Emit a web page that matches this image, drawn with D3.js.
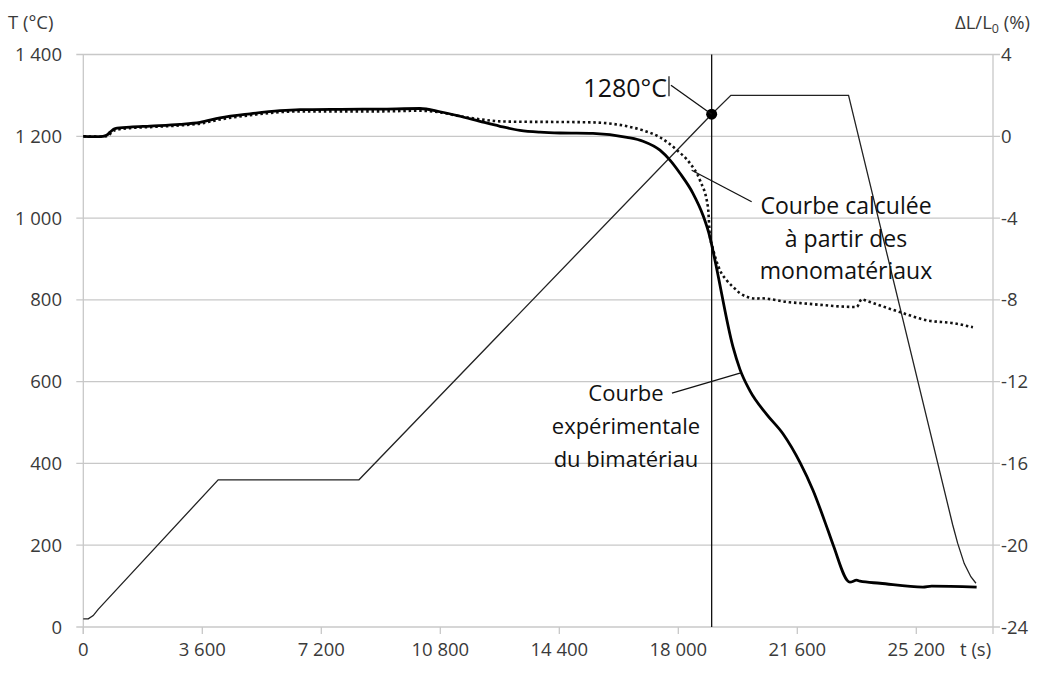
<!DOCTYPE html>
<html><head><meta charset="utf-8">
<script src="https://cdn.jsdelivr.net/npm/d3@7"></script>
<style>
body{margin:0;background:#fff}
text{font-family:"Open Sans",sans-serif;fill:#3a3a3a}
</style>
</head><body>
<svg id="chart" width="1046" height="675"></svg>
<script>
// ---- tick values ----
const timeTicks = [0, 3600, 7200, 10800, 14400, 18000, 21600, 25200];
const tempTicks = [0, 200, 400, 600, 800, 1000, 1200, 1400];
const strainTicks = [-24, -20, -16, -12, -8, -4, 0, 4];

// ---- temperature programme (s, °C) ----
const tempTime   = [0, 150, 300, 450, 4080, 8340, 19009, 19590, 23150, 26300, 26450, 26650, 26850, 27004];
const tempValues = [20, 20, 28, 43, 360, 360, 1254, 1300, 1300, 250, 205, 155, 123, 107];

// ---- experimental curve, bimaterial (s, %) ----
const expTime = [0, 500, 700, 808, 959, 1413, 2018, 2925, 3530, 4135, 5042, 5950, 6555, 7765, 8975, 10185,
  10790, 11395, 12000, 12605, 13210, 13815, 14420, 15418, 16447, 16931, 17445, 17748, 18050, 18443, 18746,
  18958, 19109, 19654, 19865, 20168, 20673, 21166, 21680, 22074, 22527, 22688, 23193, 23395, 23495, 24100,
  25401, 25664, 27025];
const expValues = [0, -0.02, 0.05, 0.2, 0.38, 0.45, 0.5, 0.58, 0.68, 0.9, 1.1, 1.25, 1.3, 1.32, 1.33, 1.36,
  1.2, 0.98, 0.73, 0.49, 0.29, 0.2, 0.16, 0.14, -0.05, -0.24, -0.68, -1.17, -1.81, -2.79, -3.86,
  -4.94, -6.06, -10.3, -11.4, -12.45, -13.6, -14.55, -15.95, -17.31, -19.27, -20.0, -21.81, -21.71, -21.76, -21.86,
  -22.05, -22.0, -22.05];

// ---- calculated curve from monomaterials (s, %) ----
const calcTime = [0, 500, 700, 959, 1413, 2018, 2925, 3530, 4135, 5042, 5950, 6555, 8975, 10185, 10790, 11395,
  12000, 12605, 13210, 14420, 15418, 16447, 16931, 17445, 17959, 18353, 18655, 18897, 18958, 19019, 19260,
  19463, 19765, 19865, 20370, 20470, 21378, 21771, 23395, 23547, 23698, 24705, 25513, 26308, 26913];
const calcValues = [0, -0.02, 0.0, 0.3, 0.4, 0.45, 0.53, 0.62, 0.82, 1.03, 1.18, 1.22, 1.22, 1.25, 1.17, 0.98,
  0.83, 0.73, 0.71, 0.7, 0.68, 0.49, 0.29, -0.05, -0.68, -1.32, -2.15, -3.47, -4.92, -5.33, -6.55,
  -7.04, -7.53, -7.68, -7.94, -7.92, -8.12, -8.17, -8.35, -7.97, -8.05, -8.6, -9.0, -9.14, -9.34];

// ---- annotation (marker on the temperature curve) ----
const markerTime = 19009, markerTemp = 1254;
const markerLabel = "1280°C";
const calcLabel = ["Courbe calculée", "à partir des", "monomatériaux"];
const expLabel = ["Courbe", "expérimentale", "du bimatériau"];

const svg = d3.select("#chart");
const L = 83.3, R = 993, T = 54.5, B = 627;

const x = d3.scaleLinear().domain([0, 27520]).range([L, R]);
const yT = d3.scaleLinear().domain([0, 1400]).range([B, T]);
const yS = d3.scaleLinear().domain([-24, 4]).range([B, T]);

const loc = d3.formatLocale({decimal: ",", thousands: " ", grouping: [3], currency: ["", "€"]});
const fmt = loc.format(",d");
const gridColor = "#c8c8c8";
const fs = 18.5;

// horizontal gridlines + ticks (both sides)
svg.append("g").selectAll("line").data(tempTicks).join("line")
  .attr("x1", L - 7).attr("x2", R + 7)
  .attr("y1", d => yT(d)).attr("y2", d => yT(d))
  .attr("stroke", gridColor).attr("stroke-width", 1.3);

// vertical axis lines
svg.append("line").attr("x1", L).attr("x2", L).attr("y1", T).attr("y2", B + 7)
  .attr("stroke", gridColor).attr("stroke-width", 1.3);
svg.append("line").attr("x1", R).attr("x2", R).attr("y1", T).attr("y2", B + 7)
  .attr("stroke", gridColor).attr("stroke-width", 1.3);

// x tick marks
svg.append("g").selectAll("line").data(timeTicks).join("line")
  .attr("x1", d => x(d)).attr("x2", d => x(d))
  .attr("y1", B).attr("y2", B + 7)
  .attr("stroke", gridColor).attr("stroke-width", 1.3);

// left tick labels
svg.append("g").selectAll("text").data(tempTicks).join("text")
  .attr("x", 62).attr("y", d => yT(d) + 6.5)
  .attr("text-anchor", "end").attr("font-size", fs)
  .text(d => fmt(d));

// right tick labels
svg.append("g").selectAll("text").data(strainTicks).join("text")
  .attr("x", 1001).attr("y", d => yS(d) + 6.5)
  .attr("text-anchor", "start").attr("font-size", fs)
  .text(d => d);

// x tick labels
svg.append("g").selectAll("text").data(timeTicks).join("text")
  .attr("x", d => x(d)).attr("y", 656)
  .attr("text-anchor", "middle").attr("font-size", fs)
  .text(d => fmt(d));

// axis titles
svg.append("text").attr("x", 8).attr("y", 29).attr("font-size", fs).text("T (°C)");
const rt = svg.append("text").attr("x", 955).attr("y", 29).attr("font-size", fs);
rt.append("tspan").text("ΔL/L");
rt.append("tspan").attr("font-size", 12.5).attr("dy", 4).text("0");
rt.append("tspan").attr("dy", -4).text(" (%)");
svg.append("text").attr("x", 960).attr("y", 656).attr("font-size", fs).text("t (s)");

// vertical marker line at the marker time
svg.append("line").attr("x1", x(markerTime)).attr("x2", x(markerTime))
  .attr("y1", T).attr("y2", B).attr("stroke", "#111").attr("stroke-width", 1.3);

// temperature curve
const tempData = tempTime.map((t, i) => [t, tempValues[i]]);
svg.append("path").datum(tempData)
  .attr("d", d3.line().x(d => x(d[0])).y(d => yT(d[1])))
  .attr("fill", "none").attr("stroke", "#222").attr("stroke-width", 1.3);

// calculated curve (dotted)
const calcData = calcTime.map((t, i) => [t, calcValues[i]]);
svg.append("path").datum(calcData)
  .attr("d", d3.line().curve(d3.curveMonotoneX).x(d => x(d[0])).y(d => yS(d[1])))
  .attr("fill", "none").attr("stroke", "#111").attr("stroke-width", 2.6)
  .attr("stroke-dasharray", "2.5,2.8");

// experimental curve (thick)
const expData = expTime.map((t, i) => [t, expValues[i]]);
svg.append("path").datum(expData)
  .attr("d", d3.line().curve(d3.curveMonotoneX).x(d => x(d[0])).y(d => yS(d[1])))
  .attr("fill", "none").attr("stroke", "#000").attr("stroke-width", 2.8);

// marker dot
svg.append("circle").attr("cx", x(markerTime)).attr("cy", yT(markerTemp)).attr("r", 5.5).attr("fill", "#000");

// annotation: 1280°C
svg.append("text").attr("x", 667).attr("y", 97).attr("text-anchor", "end")
  .attr("font-size", 25).style("fill", "#111").text(markerLabel);
svg.append("line").attr("x1", x(17718)).attr("x2", x(17718)).attr("y1", yT(1347)).attr("y2", yT(1298))
  .attr("stroke", "#111").attr("stroke-width", 1.2);
svg.append("line").attr("x1", x(17778)).attr("y1", yT(1325)).attr("x2", x(markerTime)).attr("y2", yT(markerTemp))
  .attr("stroke", "#111").attr("stroke-width", 1.3);

// annotation: calculated curve
svg.append("line").attr("x1", x(18404)).attr("y1", yT(1117)).attr("x2", x(20219)).attr("y2", yT(1040))
  .attr("stroke", "#111").attr("stroke-width", 1.3);
svg.append("g").selectAll("text").data(calcLabel).join("text")
  .attr("x", 846).attr("y", (d, i) => 214 + i * 32.5)
  .attr("text-anchor", "middle").attr("font-size", 23).style("fill", "#111")
  .text(d => d);

// annotation: experimental curve
svg.append("line").attr("x1", x(17808)).attr("y1", yT(572)).attr("x2", x(19865)).attr("y2", yT(621))
  .attr("stroke", "#111").attr("stroke-width", 1.3);
svg.append("g").selectAll("text").data(expLabel).join("text")
  .attr("x", 626).attr("y", (d, i) => 401 + i * 33)
  .attr("text-anchor", "middle").attr("font-size", 22).style("fill", "#111")
  .text(d => d);
</script>
</body></html>
